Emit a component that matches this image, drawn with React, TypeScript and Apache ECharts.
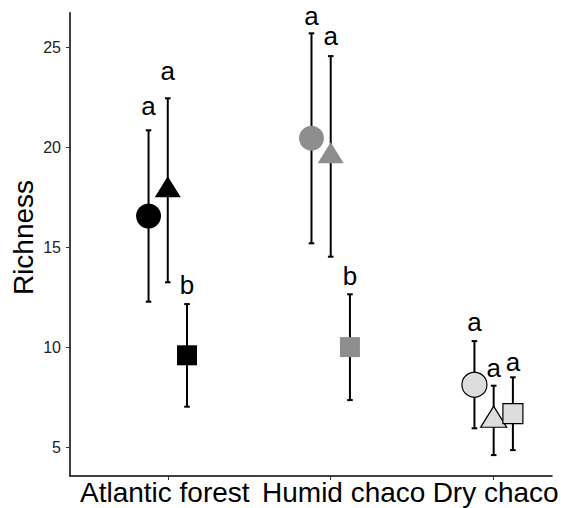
import React, { useEffect, useRef } from "react";
import * as echarts from "echarts";

const habitats = ["Atlantic forest", "Humid chaco", "Dry chaco"];
const habitatPos = [1, 2, 3];
const dodge = [-0.118, 0, 0.118];

const circleMean = [16.58, 20.47, 8.15];
const circleLow = [12.3, 15.22, 5.97];
const circleHigh = [20.87, 25.72, 10.33];
const circleLetters = ["a", "a", "a"];
const circleLetterY = [21.64, 26.14, 10.85];

const triangleMean = [17.87, 19.57, 6.37];
const triangleLow = [13.27, 14.55, 4.63];
const triangleHigh = [22.47, 24.58, 8.1];
const triangleLetters = ["a", "a", "a"];
const triangleLetterY = [23.39, 25.14, 8.55];

const squareMean = [9.62, 10.03, 6.7];
const squareLow = [7.05, 7.38, 4.88];
const squareHigh = [12.18, 12.67, 8.52];
const squareLetters = ["b", "b", "a"];
const squareLetterY = [12.72, 13.14, 8.84];

const yTicks = [5, 10, 15, 20, 25];
const yMin = 3.585;
const yMax = 26.75;

// layout: horizontal nudges (px) of the category labels, as in the reference
const xLabelDx = [-3, 13, 2];

const fills = ["#000000", "#8e8e8e", "#dddddd"];
const strokes = ["#000000", "#8e8e8e", "#000000"];
const strokeW = [0, 0, 1.2];

const FONT = "Liberation Sans, Arial, Helvetica, sans-serif";

export default function App() {
  const ref = useRef<HTMLDivElement>(null);
  useEffect(() => {
    document.body.style.margin = "0";
    if (!ref.current) return;
    const chart = echarts.init(ref.current, null, { renderer: "svg" });

    const shapes = [
      { name: "circle", symbol: "circle", size: 25, offset: [0, 0], mean: circleMean, low: circleLow, high: circleHigh, letters: circleLetters, ly: circleLetterY, d: 0 },
      { name: "triangle", symbol: "triangle", size: [26, 21], offset: [0, -3.5], mean: triangleMean, low: triangleLow, high: triangleHigh, letters: triangleLetters, ly: triangleLetterY, d: 1 },
      { name: "square", symbol: "rect", size: 20, offset: [0, 0], mean: squareMean, low: squareLow, high: squareHigh, letters: squareLetters, ly: squareLetterY, d: 2 },
    ];

    const errData: any[] = [];
    const letterData: any[] = [];
    shapes.forEach((s) => {
      habitatPos.forEach((p, i) => {
        const x = p + dodge[s.d];
        errData.push([x, s.low[i], s.high[i]]);
        letterData.push({ value: [x, s.ly[i]], letter: s.letters[i] });
      });
    });

    const scatterSeries = shapes.map((s) => ({
      type: "scatter",
      name: s.name,
      symbol: s.symbol,
      symbolSize: s.size,
      symbolOffset: s.offset,
      z: 5,
      data: habitatPos.map((p, i) => ({
        value: [p + dodge[s.d], s.mean[i]],
        itemStyle: {
          color: fills[i],
          borderColor: strokes[i],
          borderWidth: strokeW[i],
          opacity: 1,
        },
      })),
    }));

    const option: any = {
      animation: false,
      grid: { left: 70, right: 9, top: 12.7, bottom: 32, containLabel: false },
      xAxis: {
        type: "value",
        min: 0.4,
        max: 3.358,
        splitLine: { show: false },
        axisLine: { show: true, onZero: false, lineStyle: { color: "#000", width: 1.5 } },
        axisTick: { show: true, customValues: habitatPos, length: 4, lineStyle: { color: "#333", width: 1 } },
        axisLabel: { show: false },
      },
      yAxis: {
        type: "value",
        min: yMin,
        max: yMax,
        splitLine: { show: false },
        axisLine: { show: true, onZero: false, lineStyle: { color: "#000", width: 1.5 } },
        axisTick: { show: true, customValues: yTicks, length: 4, lineStyle: { color: "#333", width: 1 } },
        axisLabel: {
          show: true,
          customValues: yTicks,
          showMinLabel: true,
          showMaxLabel: true,
          fontFamily: FONT,
          fontSize: 16,
          color: "#222",
          margin: 9,
        },
      },
      graphic: [
        {
          type: "text",
          x: 23,
          y: 237.5,
          rotation: Math.PI / 2,
          style: {
            text: "Richness",
            fontFamily: FONT,
            fontSize: 28,
            fill: "#000",
            align: "center",
            verticalAlign: "middle",
          },
        },
      ],
      series: [
        {
          type: "custom",
          name: "errorbars",
          z: 2,
          data: errData,
          renderItem: (params: any, api: any) => {
            const x = api.value(0);
            const lo = api.coord([x, api.value(1)]);
            const hi = api.coord([x, api.value(2)]);
            const cap = 2.8;
            const style = { stroke: "#000", lineWidth: 2 };
            return {
              type: "group",
              children: [
                { type: "line", shape: { x1: lo[0], y1: lo[1], x2: hi[0], y2: hi[1] }, style },
                { type: "line", shape: { x1: hi[0] - cap, y1: hi[1], x2: hi[0] + cap, y2: hi[1] }, style },
                { type: "line", shape: { x1: lo[0] - cap, y1: lo[1], x2: lo[0] + cap, y2: lo[1] }, style },
              ],
            };
          },
        },
        ...scatterSeries,
        {
          type: "custom",
          name: "letters",
          z: 6,
          data: letterData,
          renderItem: (params: any, api: any) => {
            const pt = api.coord([api.value(0), api.value(1)]);
            const item = letterData[params.dataIndex];
            return {
              type: "text",
              x: pt[0],
              y: pt[1] - 8.6,
              style: {
                text: item.letter,
                fontFamily: FONT,
                fontSize: 26,
                fill: "#000",
                align: "center",
                verticalAlign: "middle",
              },
            };
          },
        },
        {
          type: "custom",
          name: "xLabels",
          z: 6,
          clip: false,
          data: habitatPos.map((p) => [p, yMin]),
          renderItem: (params: any, api: any) => {
            const pt = api.coord([api.value(0), api.value(1)]);
            return {
              type: "text",
              x: pt[0] + xLabelDx[params.dataIndex],
              y: pt[1] + 16.4,
              style: {
                text: habitats[params.dataIndex],
                fontFamily: FONT,
                fontSize: 28,
                fill: "#000",
                align: "center",
                verticalAlign: "middle",
              },
            };
          },
        },
      ],
    };

    chart.setOption(option);
    return () => chart.dispose();
  }, []);

  return <div ref={ref} style={{ width: 561, height: 508 }} />;
}
